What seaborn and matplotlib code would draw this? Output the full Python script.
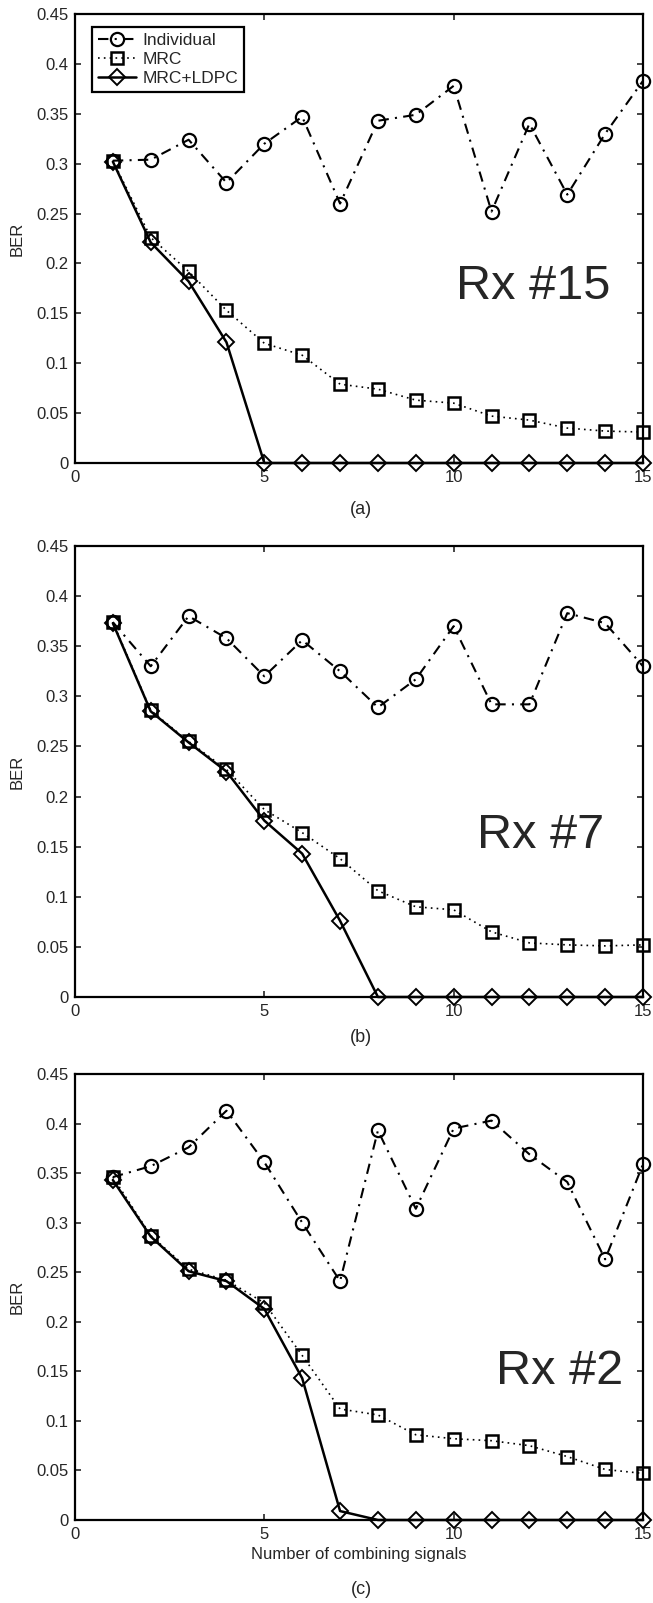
import numpy as np
import pandas as pd
import matplotlib
matplotlib.use('Agg')
import matplotlib.pyplot as plt
import seaborn as sns

x = list(range(1, 16))

# panel (a) Rx #15
ind_a = [0.303, 0.304, 0.324, 0.281, 0.320, 0.347, 0.260, 0.343, 0.349, 0.378, 0.252, 0.340, 0.269, 0.330, 0.383]
mrc_a = [0.303, 0.226, 0.192, 0.153, 0.120, 0.108, 0.079, 0.074, 0.063, 0.060, 0.047, 0.043, 0.035, 0.032, 0.031]
ldpc_a = [0.302, 0.221, 0.182, 0.121, 0, 0, 0, 0, 0, 0, 0, 0, 0, 0, 0]

# panel (b) Rx #7
ind_b = [0.374, 0.330, 0.380, 0.358, 0.320, 0.356, 0.325, 0.289, 0.317, 0.370, 0.292, 0.292, 0.383, 0.373, 0.330]
mrc_b = [0.374, 0.286, 0.255, 0.227, 0.187, 0.164, 0.138, 0.106, 0.090, 0.087, 0.065, 0.054, 0.052, 0.051, 0.052]
ldpc_b = [0.373, 0.285, 0.254, 0.225, 0.176, 0.143, 0.076, 0, 0, 0, 0, 0, 0, 0, 0]

# panel (c) Rx #2
ind_c = [0.346, 0.357, 0.376, 0.413, 0.361, 0.300, 0.241, 0.393, 0.314, 0.395, 0.403, 0.369, 0.341, 0.263, 0.359]
mrc_c = [0.346, 0.287, 0.253, 0.242, 0.219, 0.166, 0.112, 0.106, 0.086, 0.082, 0.080, 0.075, 0.064, 0.051, 0.047]
ldpc_c = [0.343, 0.286, 0.251, 0.241, 0.213, 0.143, 0.009, 0, 0, 0, 0, 0, 0, 0, 0]

panels = [
    ('Rx #15', '(a)', ind_a, mrc_a, ldpc_a),
    ('Rx #7', '(b)', ind_b, mrc_b, ldpc_b),
    ('Rx #2', '(c)', ind_c, mrc_c, ldpc_c),
]

yticks = [0, 0.05, 0.1, 0.15, 0.2, 0.25, 0.3, 0.35, 0.4, 0.45]
ytick_labels = ['0', '0.05', '0.1', '0.15', '0.2', '0.25', '0.3', '0.35', '0.4', '0.45']
xticks = [0, 5, 10, 15]

sns.set_style('ticks')
plt.rcParams['font.family'] = ['Liberation Sans', 'DejaVu Sans']
plt.rcParams['xtick.direction'] = 'in'
plt.rcParams['ytick.direction'] = 'in'

W, H = 653, 1603
fig = plt.figure(figsize=(W / 100, H / 100), dpi=100)

# axes boxes in pixels: (top, bottom)
boxes = [(14, 463), (546, 997), (1074, 1520)]
left_px, right_px = 75, 643
cap_y = [509, 1037, 1590]
rx_pos = [(0.806, 0.394), (0.82, 0.359), (0.854, 0.332)]

for i, (rx, cap, ind, mrc, ldpc) in enumerate(panels):
    top, bot = boxes[i]
    ax = fig.add_axes([left_px / W, 1 - bot / H, (right_px - left_px) / W, (bot - top) / H])
    df = pd.DataFrame({'x': x, 'Individual': ind, 'MRC': mrc, 'MRC+LDPC': ldpc})
    sns.lineplot(data=df, x='x', y='Individual', ax=ax, color='black', lw=1.5,
                 marker='o', markersize=9.5, markerfacecolor='none',
                 markeredgecolor='black', markeredgewidth=1.6, label='Individual', clip_on=False)
    ax.lines[-1].set_linestyle((0, (5, 3, 1, 3)))
    sns.lineplot(data=df, x='x', y='MRC', ax=ax, color='black', lw=1.2,
                 marker='s', markersize=8.5, markerfacecolor='none',
                 markeredgecolor='black', markeredgewidth=1.8, label='MRC', clip_on=False)
    ax.lines[-1].set_linestyle((0, (1, 2.5)))
    sns.lineplot(data=df, x='x', y='MRC+LDPC', ax=ax, color='black', lw=1.8,
                 linestyle='-', marker='D', markersize=8, markerfacecolor='none',
                 markeredgecolor='black', markeredgewidth=1.4, label='MRC+LDPC', clip_on=False)
    ax.set_xlim(0, 15)
    ax.set_ylim(0, 0.45)
    ax.set_xticks(xticks)
    ax.set_xticklabels([str(t) for t in xticks], fontsize=12)
    ax.set_yticks(yticks)
    ax.set_yticklabels(ytick_labels, fontsize=12)
    ax.tick_params(top=True, right=True, length=4.5, width=1.2)
    ax.tick_params(axis='x', pad=5)
    ax.tick_params(axis='y', pad=4.5)
    for s in ax.spines.values():
        s.set_linewidth(1.6)
        s.set_color('black')
    ax.set_ylabel('BER', fontsize=12)
    ax.yaxis.set_label_coords(-0.088, 0.5)
    if i == 2:
        ax.set_xlabel('Number of combining signals', fontsize=12, va='center')
        ax.xaxis.set_label_coords(0.5, -0.078)
    else:
        ax.set_xlabel('')
    ax.text(rx_pos[i][0], rx_pos[i][1], rx, transform=ax.transAxes,
            fontsize=35, ha='center', va='center')
    if i == 0:
        leg = ax.legend(loc='upper left', fontsize=12.5, frameon=True, fancybox=False,
                        edgecolor='black', framealpha=1, borderpad=0.35,
                        handlelength=2.2, handletextpad=0.35, labelspacing=0.22,
                        bbox_to_anchor=(0.030, 0.971), borderaxespad=0)
        leg.get_frame().set_linewidth(1.6)
    else:
        ax.get_legend().remove()
    fig.text(0.553, 1 - cap_y[i] / H, cap, fontsize=13, ha='center', va='center')

fig.savefig('out.png', dpi=100)
